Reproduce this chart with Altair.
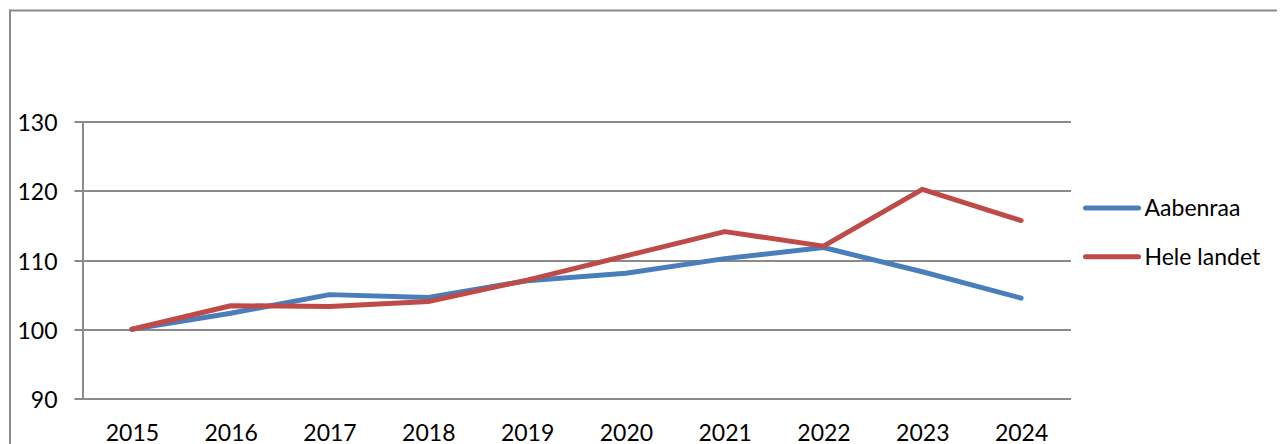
import altair as alt
import pandas as pd

years = ["2015", "2016", "2017", "2018", "2019", "2020", "2021", "2022", "2023", "2024"]
aabenraa = [100, 102.3, 105.0, 104.6, 107.0, 108.1, 110.2, 111.8, 108.3, 104.5]
hele_landet = [100, 103.4, 103.3, 104.0, 107.1, 110.6, 114.1, 112.0, 120.2, 115.7]
series_names = ["Aabenraa", "Hele landet"]
series_colors = ["#4A7EBB", "#BE4B48"]
y_ticks = [90, 100, 110, 120, 130]
title_text = "Figur 5 viser udviklingen i grundskyldsindtægter pr. indbygger i forhold til 2015."

rows = []
for name, vals in zip(series_names, [aabenraa, hele_landet]):
    for yr, v in zip(years, vals):
        rows.append({"year": yr, "value": v, "series": name})
df = pd.DataFrame(rows)

FONT = "Lato"
GRID = "#8a8a8a"

color_scale = alt.Scale(domain=series_names, range=series_colors)

lines = alt.Chart(df).mark_line(strokeWidth=5, strokeCap="round", strokeJoin="round").encode(
    x=alt.X("year:O", scale=alt.Scale(type="point", padding=0.5),
            axis=alt.Axis(title=None, labelAngle=0, ticks=False, labelPadding=24,
                          labelFontSize=23, labelFont=FONT, labelColor="#000",
                          domainColor=GRID, domainWidth=2, grid=False)),
    y=alt.Y("value:Q", scale=alt.Scale(domain=[90, 130], nice=False, zero=False),
            axis=alt.Axis(title=None, values=y_ticks, tickSize=8.5, tickColor=GRID, tickWidth=2,
                          labelPadding=17, labelFontSize=23, labelFont=FONT, labelColor="#000",
                          labelOffset=2,
                          domainColor=GRID, domainWidth=2, gridColor=GRID, gridWidth=2)),
    color=alt.Color("series:N", scale=color_scale, legend=None),
)

# outer frame (decoration): top and left edges only, the rest lies outside the picture
frame_df = pd.DataFrame({"a": [0]})
frame_top = alt.Chart(frame_df).mark_rule(stroke=GRID, strokeWidth=2).encode(
    x=alt.value(-73.5), x2=alt.value(1300), y=alt.value(-111)
)
frame_left = alt.Chart(frame_df).mark_rule(stroke=GRID, strokeWidth=2).encode(
    x=alt.value(-72.5), y=alt.value(-112), y2=alt.value(600)
)

# manual legend
leg_df = pd.DataFrame({"series": series_names, "pos": [0, 1]})
leg_y = alt.Y("pos:O", scale=alt.Scale(type="point", domain=[0, 1], range=[86.5, 135.2], padding=0), axis=None)
leg_lines = alt.Chart(leg_df).mark_rule(strokeWidth=5, strokeCap="round").encode(
    x=alt.value(1003), x2=alt.value(1056), y=leg_y,
    color=alt.Color("series:N", scale=color_scale, legend=None),
)
leg_text = alt.Chart(leg_df).mark_text(align="left", baseline="middle", fontSize=23, font=FONT,
                                       color="#000", dy=1).encode(
    x=alt.value(1062), y=leg_y, text="series:N"
)

title = alt.Chart(pd.DataFrame({"t": [title_text]})).mark_text(
    align="left", baseline="alphabetic", fontSize=21, font="DejaVu Sans", fontStyle="italic", color="#000"
).encode(x=alt.value(-82), y=alt.value(-117.5), text="t:N")

chart = alt.layer(frame_top, frame_left, lines, leg_lines, leg_text, title).resolve_scale(
    y="independent"
).properties(
    width=988, height=277,
    padding={"left": 74.5, "top": 113.5, "right": 206, "bottom": 46},
    autosize=alt.AutoSizeParams(type="none"),
).configure_view(stroke=None)

chart.save("out.html", embed_options={"renderer": "svg", "actions": False})
